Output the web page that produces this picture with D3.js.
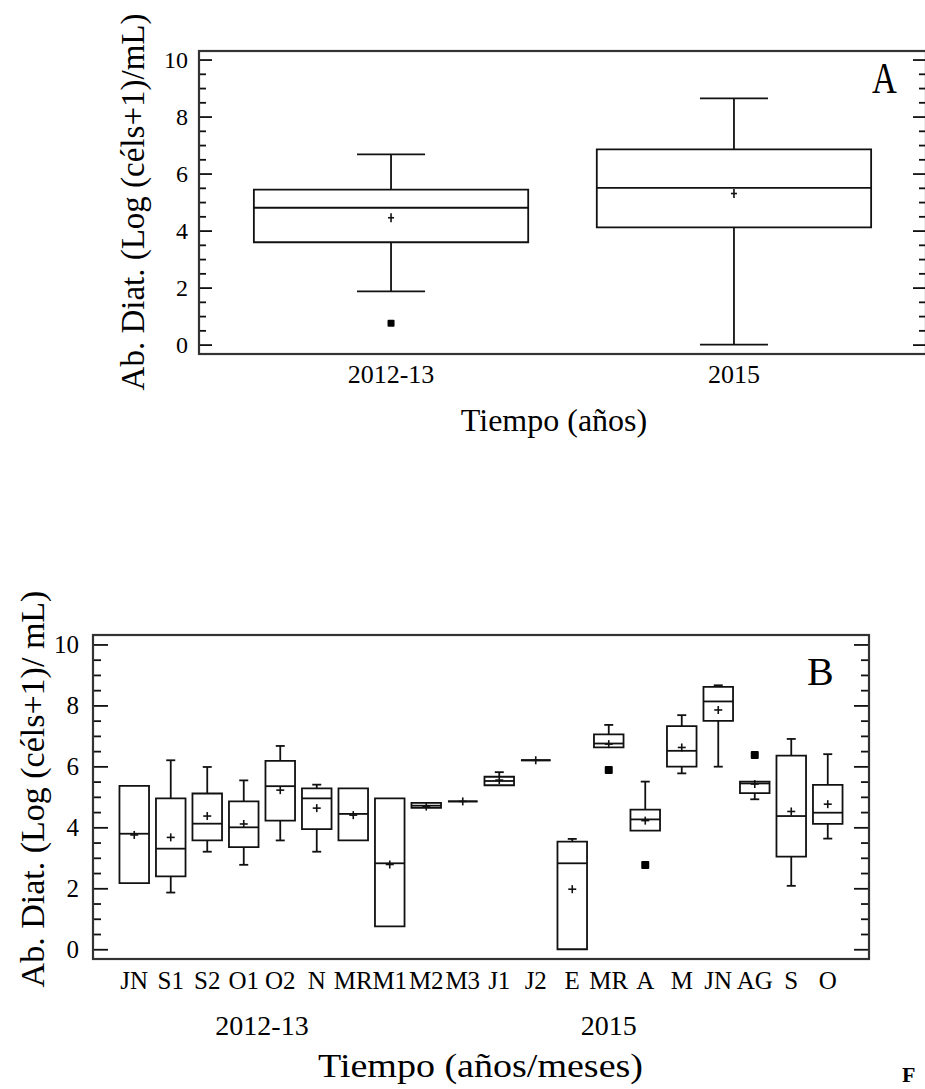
<!DOCTYPE html>
<html><head><meta charset="utf-8">
<script src="https://cdn.jsdelivr.net/npm/d3@7"></script>
<style>
body{margin:0;background:#fff;overflow:hidden}
svg{display:block}
text{font-family:"Liberation Serif","Times New Roman",serif;fill:#000}
</style>
</head><body>
<svg id="c" width="925" height="1089"></svg>
<script>
// ---------- Panel A data ----------
const catsA = ["2012-13", "2015"];
const loA   = [1.87, 0.00];
const q1A   = [3.59, 4.11];
const medA  = [4.80, 5.50];
const q3A   = [5.44, 6.85];
const hiA   = [6.67, 8.64];
const meanA = [4.45, 5.30];
const outA  = [[0, 0.75]];           // [category index, value]

// ---------- Panel B data ----------
const labelsB = ["JN","S1","S2","O1","O2","N","MR","M1","M2","M3","J1","J2","E","MR","A","M","JN","AG","S","O"];
const loB   = [2.17,1.86,3.20,2.77,3.57,3.20,3.57,0.75,4.64,4.85,5.38,6.20,0.00,6.62,3.89,5.77,5.99,4.92,2.08,3.63];
const q1B   = [2.17,2.39,3.57,3.35,4.22,3.94,3.57,0.75,4.64,4.85,5.38,6.20,0.00,6.62,3.89,5.99,7.49,5.12,3.04,4.11];
const medB  = [3.79,3.30,4.12,4.00,5.35,4.95,4.44,2.82,4.71,4.85,5.52,6.20,2.82,6.75,4.26,6.51,8.13,5.44,4.37,4.48];
const q3B   = [5.36,4.95,5.11,4.85,6.18,5.28,5.28,4.95,4.80,4.85,5.66,6.20,3.53,7.05,4.58,7.32,8.61,5.50,6.35,5.39];
const hiB   = [5.36,6.20,5.98,5.54,6.67,5.40,5.28,4.95,4.80,4.85,5.81,6.20,3.62,7.36,5.50,7.68,8.66,5.50,6.90,6.40];
const meanB = [3.75,3.67,4.37,4.11,5.22,4.63,4.40,2.78,4.68,4.85,5.55,6.20,1.97,6.73,4.22,6.62,7.85,5.42,4.52,4.76];
const outB  = [[13, 5.88], [14, 2.76], [17, 6.37]];
const groupB = ["2012-13", "2015"];

const yMajor = [0, 2, 4, 6, 8, 10];
const yMinor = d3.range(0, 10.01, 0.5).filter(v => v % 2 !== 0);

const titleA  = "Ab. Diat. (Log (céls+1)/mL)";
const titleB  = "Ab. Diat. (Log (céls+1)/ mL)";
const xTitleA = "Tiempo (años)";
const xTitleB = "Tiempo (años/meses)";

const svg = d3.select("#c");
const STROKE = "#111";
const SW = 1.8;

function panel(cfg) {
  const g = svg.append("g");
  const y = d3.scaleLinear().domain(cfg.yDom).range([cfg.y1, cfg.y0]);
  const x = d3.scalePoint().domain(d3.range(cfg.n)).range([cfg.x0, cfg.x1]).padding(cfg.pad);

  const styleTicks = sel => { sel.select(".domain").remove(); sel.selectAll("line").attr("stroke", STROKE).attr("stroke-width", SW); };

  const left = g.append("g").attr("transform", `translate(${cfg.x0},0)`)
    .call(d3.axisLeft(y).tickValues(yMajor).tickSize(-cfg.tMaj).tickPadding(cfg.lblPad).tickFormat(d3.format("d")));
  styleTicks(left);
  left.selectAll("text").style("font-size", cfg.tickFont + "px").attr("fill", "#000")
    .style("font-family", '"Liberation Serif","Times New Roman",serif');
  styleTicks(g.append("g").attr("transform", `translate(${cfg.x0},0)`)
    .call(d3.axisLeft(y).tickValues(yMinor).tickSize(-cfg.tMin).tickFormat("")));
  styleTicks(g.append("g").attr("transform", `translate(${cfg.x1},0)`)
    .call(d3.axisRight(y).tickValues(yMajor).tickSize(-cfg.tMaj).tickFormat("")));
  styleTicks(g.append("g").attr("transform", `translate(${cfg.x1},0)`)
    .call(d3.axisRight(y).tickValues(yMinor).tickSize(-cfg.tMin).tickFormat("")));

  g.append("rect").attr("x", cfg.x0).attr("y", cfg.y0)
    .attr("width", cfg.x1 - cfg.x0).attr("height", cfg.y1 - cfg.y0)
    .attr("fill", "none").attr("stroke", "#333").attr("stroke-width", 2.2);

  const bw = x.step() * cfg.boxFrac, cw = cfg.capW;
  const d = cfg;
  const line = (x1, y1, x2, y2, sw) => g.append("line").attr("x1", x1).attr("y1", y1).attr("x2", x2).attr("y2", y2)
    .attr("stroke", STROKE).attr("stroke-width", sw || SW);
  for (let i = 0; i < cfg.n; i++) {
    const cx = x(i);
    const yl = y(d.q1[i]), yh = y(d.q3[i]);
    const p = d3.path();
    p.moveTo(cx - bw / 2, yh); p.lineTo(cx + bw / 2, yh); p.lineTo(cx + bw / 2, yl);
    p.lineTo(cx - bw / 2, yl); p.closePath();
    g.append("path").attr("d", p.toString()).attr("fill", "none").attr("stroke", STROKE).attr("stroke-width", SW);
    line(cx - bw / 2, y(d.med[i]), cx + bw / 2, y(d.med[i]));
    if (d.hi[i] > d.q3[i] + 1e-9) {
      line(cx, yh, cx, y(d.hi[i]));
      line(cx - cw / 2, y(d.hi[i]), cx + cw / 2, y(d.hi[i]));
    }
    if (d.lo[i] < d.q1[i] - 1e-9) {
      line(cx, yl, cx, y(d.lo[i]));
      line(cx - cw / 2, y(d.lo[i]), cx + cw / 2, y(d.lo[i]));
    }
    const my = y(d.mean[i]);
    line(cx - cfg.mh, my, cx + cfg.mh, my, 1.6);
    line(cx, my - cfg.mv, cx, my + cfg.mv, 1.6);
  }
  d.out.forEach(([i, v]) => {
    g.append("rect").attr("x", x(i) - cfg.os / 2).attr("y", y(v) - cfg.os / 2)
      .attr("width", cfg.os).attr("height", cfg.os).attr("rx", 1).attr("fill", "#000");
  });
  return { x, y, g };
}

// ---------- Panel A ----------
const A = panel({
  n: catsA.length, x0: 199, x1: 926, y0: 51, y1: 354, yDom: [-0.33, 10.30], pad: 0.56,
  tMaj: 13, tMin: 7, lblPad: 11, tickFont: 24, boxFrac: 0.80, capW: 68, mh: 3, mv: 4.5, os: 7,
  lo: loA, q1: q1A, med: medA, q3: q3A, hi: hiA, mean: meanA, out: outA
});
catsA.forEach((c, i) => {
  svg.append("text").attr("x", A.x(i)).attr("y", 383).attr("text-anchor", "middle")
    .style("font-size", "26px").text(c);
});
svg.append("text").attr("x", 554).attr("y", 431).attr("text-anchor", "middle")
  .style("font-size", "32px").text(xTitleA);
svg.append("text").attr("transform", "translate(144,202) rotate(-90)").attr("text-anchor", "middle")
  .style("font-size", "33px").text(titleA);
svg.append("text").attr("transform", "translate(872,93) scale(0.78,1)")
  .style("font-size", "44px").text("A");

// ---------- Panel B ----------
const B = panel({
  n: labelsB.length, x0: 93, x1: 869, y0: 635, y1: 959, yDom: [-0.32, 10.31], pad: 1.13,
  tMaj: 15, tMin: 8, lblPad: 14, tickFont: 25, boxFrac: 0.81, capW: 9, mh: 4, mv: 4, os: 8,
  lo: loB, q1: q1B, med: medB, q3: q3B, hi: hiB, mean: meanB, out: outB
});
labelsB.forEach((c, i) => {
  svg.append("text").attr("transform", `translate(${B.x(i)},989)`)
    .attr("text-anchor", "middle").style("font-size", "25px").text(c);
});
const stepB = B.x.step();
[[groupB[0], B.x(3) + stepB / 2], [groupB[1], B.x(13)]].forEach(([t, gx]) => {
  svg.append("text").attr("x", gx).attr("y", 1035).attr("text-anchor", "middle")
    .style("font-size", "28px").text(t);
});
svg.append("text").attr("x", 480.5).attr("y", 1077).attr("text-anchor", "middle")
  .attr("textLength", 325).attr("lengthAdjust", "spacingAndGlyphs")
  .style("font-size", "33px").text(xTitleB);
svg.append("text").attr("transform", "translate(44,789) rotate(-90)").attr("text-anchor", "middle")
  .style("font-size", "34px").text(titleB);
svg.append("text").attr("x", 807).attr("y", 685).style("font-size", "40px").text("B");

// bold letter at the bottom right corner (start of a caption)
svg.append("text").attr("x", 902).attr("y", 1082).style("font-size", "22px").style("font-weight", "bold").text("F");
</script>
</body></html>
